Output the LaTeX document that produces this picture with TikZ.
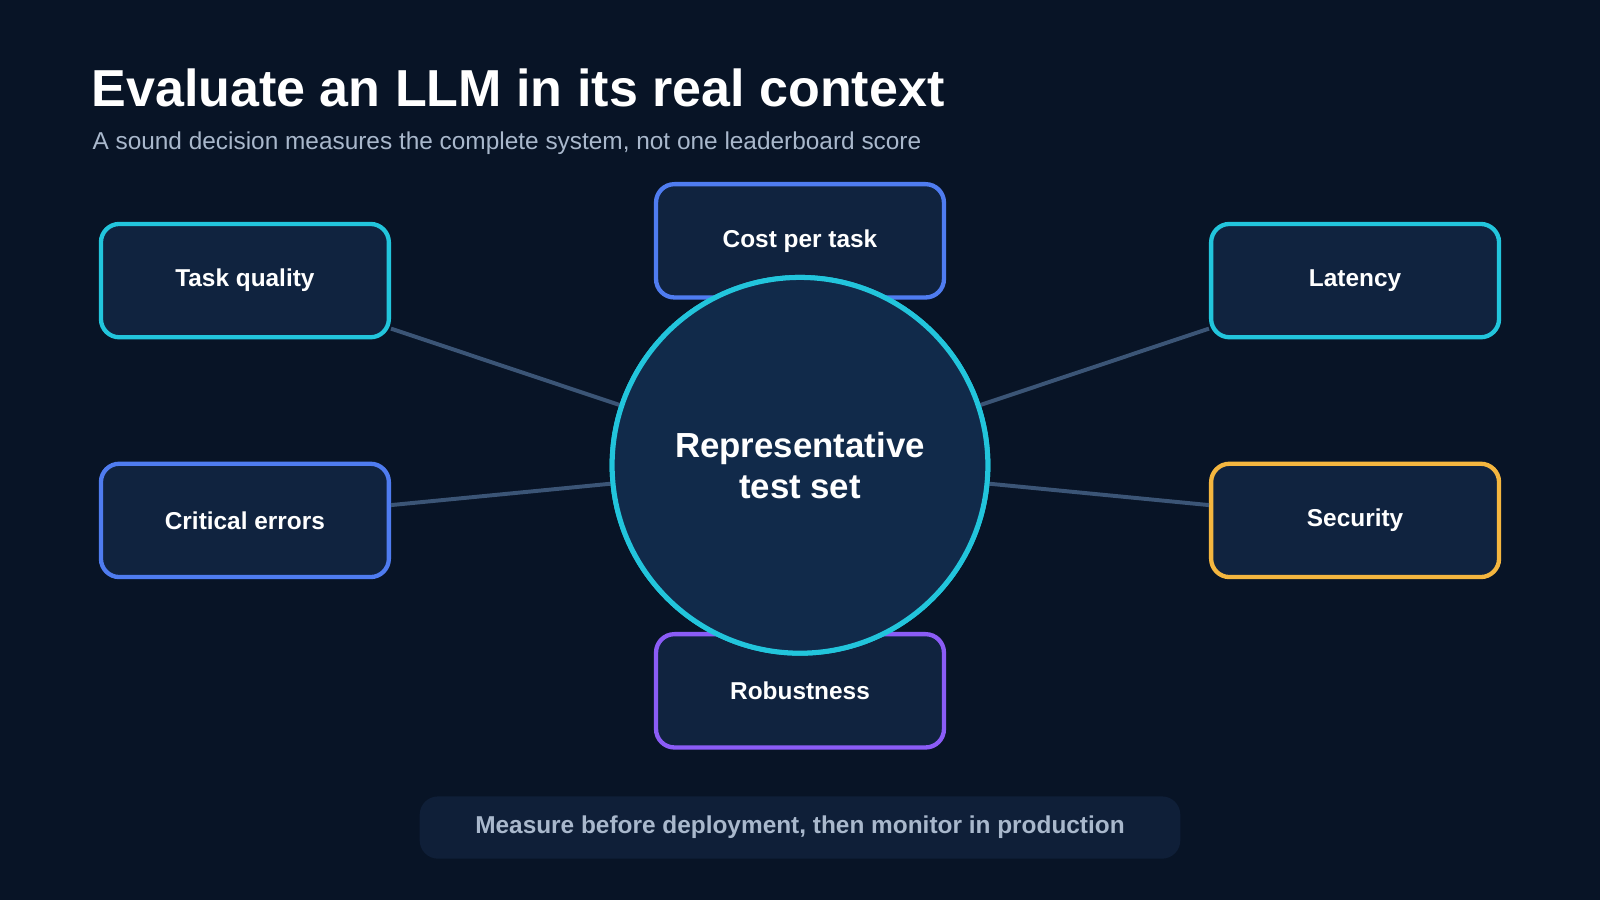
\documentclass[tikz,border=0pt]{standalone}
\usepackage{fontspec}
\setmainfont{Liberation Sans}
\definecolor{bgdark}{HTML}{081426}
\definecolor{boxfill}{HTML}{10233F}
\definecolor{corefill}{HTML}{112A4A}
\definecolor{cyanline}{HTML}{22C5DC}
\definecolor{blueline}{HTML}{4F7CF0}
\definecolor{amberline}{HTML}{F4B63F}
\definecolor{violetline}{HTML}{8B5CF6}
\definecolor{linkgrey}{HTML}{3B5576}
\definecolor{subgrey}{HTML}{A9B8CC}
\definecolor{pillfill}{HTML}{0F1F38}
\begin{document}
\begin{tikzpicture}[x=0.01cm, y=-0.01cm,
    every node/.style={inner sep=0pt},
    factor/.style={draw, line width=1.2pt, rounded corners=0.18cm, fill=boxfill,
      minimum width=2.82cm, minimum height=1.11cm, text=white,
      font=\fontsize{6.8}{8}\selectfont\bfseries},
    link/.style={draw=linkgrey, line width=1.1pt}
]
\fill[bgdark] (0,0) rectangle (1568,882);
\useasboundingbox (0,0) rectangle (1568,882);

% heading
\node[anchor=base west, text=white, font=\fontsize{14.5}{17}\selectfont\bfseries] (title) at (89,104) {Evaluate an LLM in its real context};
\node[anchor=base west, text=subgrey, font=\fontsize{6.8}{8}\selectfont] (subtitle) at (90,147) {A sound decision measures the complete system, not one leaderboard score};

% factors
\node[factor, draw=cyanline] (quality) at (240,275) {Task quality};
\node[factor, draw=blueline] (cost) at (784,236) {Cost per task};
\node[factor, draw=cyanline] (latency) at (1328,275) {Latency};
\node[factor, draw=blueline] (errors) at (240,510) {Critical errors};
\node[factor, draw=amberline] (security) at (1328,510) {Security};
\node[factor, draw=violetline] (robust) at (784,677) {Robustness};

% centre
\node[circle, draw=cyanline, line width=1.4pt, fill=corefill, minimum size=3.68cm,
  text=white, align=center, font=\fontsize{9.7}{11.5}\selectfont\bfseries] (core) at (784,456) {Representative\\test set};

\begin{scope}[on background layer/.style={}]
\end{scope}

% links
\path[link] ([yshift=-0.47cm]quality.east) -- (core);
\path[link] ([yshift=-0.47cm]latency.west) -- (core);
\path[link] ([yshift=0.15cm]errors.east) -- (core);
\path[link] ([yshift=0.15cm]security.west) -- (core);
\node[circle, draw=cyanline, line width=1.4pt, fill=corefill, minimum size=3.68cm,
  text=white, align=center, font=\fontsize{9.7}{11.5}\selectfont\bfseries] at (784,456) {Representative\\test set};

% footer
\node[fill=pillfill, rounded corners=0.18cm, minimum width=7.45cm, minimum height=0.61cm,
  text=subgrey, font=\fontsize{6.8}{8}\selectfont\bfseries] (footer) at (784,811) {Measure before deployment, then monitor in production};
\end{tikzpicture}
\end{document}
